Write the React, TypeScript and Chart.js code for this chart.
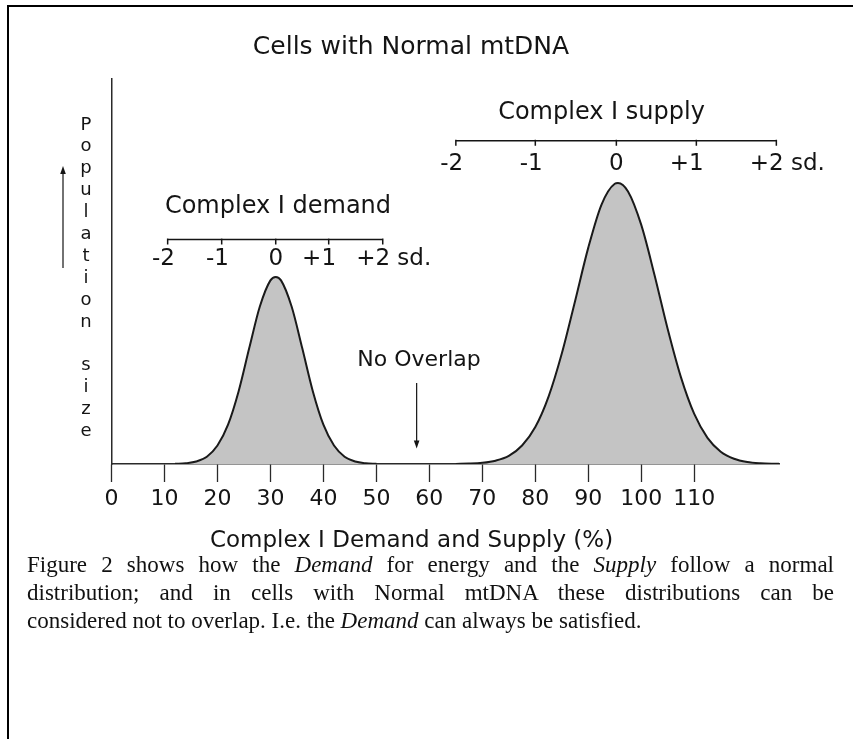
import React, { useEffect, useRef } from 'react';
import { Chart, registerables } from 'chart.js';
Chart.register(...registerables);

// ---- data ----
const xTickValues = [0, 10, 20, 30, 40, 50, 60, 70, 80, 90, 100, 110];
const xAxisMax = 126;
const demandX = [12, 14, 16, 18, 20, 22, 24, 26, 28, 30, 31, 32, 34, 36, 38, 40, 42, 44, 46, 48, 50];
const demandY = [0.05, 0.19, 0.64, 1.9, 4.8, 10.2, 18.9, 30.1, 40.9, 47.7, 48.6, 47.7, 40.9, 30.1, 18.9, 10.2, 4.8, 1.9, 0.64, 0.19, 0.05];
const supplyX = [65, 67.5, 70, 72.5, 75, 77.5, 80, 82.5, 85, 87.5, 90, 92.5, 95, 95.6, 97.5, 100, 102.5, 105, 107.5, 110, 112.5, 115, 117.5, 120, 122.5, 125, 126];
const supplyY = [0.03, 0.1, 0.31, 0.86, 2.1, 4.8, 9.6, 17.5, 28.7, 42.3, 56.2, 67.4, 72.8, 73, 70.8, 62.1, 49.1, 35.0, 22.5, 13.0, 6.8, 3.2, 1.35, 0.51, 0.18, 0.06, 0.04];
const sdLabels = ['-2', '-1', '0', '+1', '+2'];
const demandSdAt = [10.6, 20.8, 31, 41, 51.2];
const supplySdAt = [65, 80, 95.3, 110.4, 125.5];
const overlapAt = 57.6;

const chartTitle = 'Cells with Normal mtDNA';
const xTitle = 'Complex I Demand and Supply (%)';
const yTitle = 'Population size';
const demandTitle = 'Complex I demand';
const supplyTitle = 'Complex I supply';
const overlapText = 'No Overlap';

const FONT = '"DejaVu Sans", Verdana, sans-serif';
const INK = '#141414';

const annotations = {
  id: 'annotations',
  afterDraw(chart: any) {
    const { ctx } = chart;
    const x = chart.scales.x;
    ctx.save();
    ctx.fillStyle = INK;
    ctx.strokeStyle = INK;
    ctx.textBaseline = 'alphabetic';

    // main title
    ctx.font = `25px ${FONT}`;
    ctx.textAlign = 'center';
    ctx.fillText(chartTitle, 411, 54);

    // x axis title
    ctx.font = `23px ${FONT}`;
    ctx.fillText(xTitle, 411.5, 547);

    // y axis label: vertical letters
    ctx.font = `18px ${FONT}`;
    const letters = yTitle.split('');
    letters.forEach((ch, i) => {
      if (ch !== ' ') ctx.fillText(ch, 86, 129.5 + 21.9 * i);
    });
    // y arrow
    ctx.lineWidth = 1.2;
    ctx.beginPath();
    ctx.moveTo(63, 268);
    ctx.lineTo(63, 172);
    ctx.stroke();
    ctx.beginPath();
    ctx.moveTo(63, 166);
    ctx.lineTo(60.2, 174);
    ctx.lineTo(65.8, 174);
    ctx.closePath();
    ctx.fill();

    // sd scales
    const drawSd = (positions: number[], lineY: number, labelBase: number, title: string, titleX: number, titleBase: number) => {
      const xs = positions.map((v) => x.getPixelForValue(v));
      ctx.lineWidth = 1.5;
      ctx.beginPath();
      ctx.moveTo(xs[0], lineY);
      ctx.lineTo(xs[xs.length - 1], lineY);
      xs.forEach((px) => {
        ctx.moveTo(px, lineY - 1);
        ctx.lineTo(px, lineY + 5);
      });
      ctx.stroke();
      ctx.font = `23px ${FONT}`;
      const half = ctx.measureText('0').width / 2;
      ctx.textAlign = 'right';
      xs.forEach((px, i) => ctx.fillText(sdLabels[i], px + half, labelBase));
      ctx.textAlign = 'left';
      ctx.fillText(' sd.', xs[xs.length - 1] + half, labelBase);
      ctx.font = `24px ${FONT}`;
      ctx.textAlign = 'center';
      ctx.fillText(title, titleX, titleBase);
    };
    drawSd(demandSdAt, 239.5, 265, demandTitle, 278, 213);
    drawSd(supplySdAt, 140.7, 169.5, supplyTitle, 601.5, 119);

    // No overlap
    ctx.font = `22px ${FONT}`;
    ctx.textAlign = 'center';
    ctx.fillText(overlapText, 419, 366);
    const ax = x.getPixelForValue(overlapAt);
    ctx.lineWidth = 1.2;
    ctx.beginPath();
    ctx.moveTo(ax, 383);
    ctx.lineTo(ax, 442);
    ctx.stroke();
    ctx.beginPath();
    ctx.moveTo(ax, 448.5);
    ctx.lineTo(ax - 2.8, 440.5);
    ctx.lineTo(ax + 2.8, 440.5);
    ctx.closePath();
    ctx.fill();
    ctx.restore();
  },
};

export default function App() {
  const ref = useRef<HTMLCanvasElement>(null);
  useEffect(() => {
    const curve = {
      borderColor: '#1a1a1a',
      borderWidth: 2,
      backgroundColor: '#c4c4c4',
      fill: 'origin',
      pointRadius: 0,
      cubicInterpolationMode: 'monotone',
    };
    const chart = new Chart(ref.current as HTMLCanvasElement, {
      type: 'line',
      data: {
        datasets: [
          { ...curve, label: 'Complex I demand', data: demandX.map((v, i) => ({ x: v, y: demandY[i] })) },
          { ...curve, label: 'Complex I supply', data: supplyX.map((v, i) => ({ x: v, y: supplyY[i] })) },
        ],
      } as any,
      options: {
        responsive: false,
        animation: false,
        devicePixelRatio: 1,
        layout: { padding: { left: 111.5, top: 79, right: 74, bottom: 186 } },
        plugins: { legend: { display: false }, tooltip: { enabled: false }, title: { display: false } },
        scales: {
          x: {
            type: 'linear',
            min: 0,
            max: xAxisMax,
            afterBuildTicks: (s: any) => {
              s.ticks = xTickValues.map((v) => ({ value: v }));
            },
            afterFit: (s: any) => {
              s.height = 89;
            },
            grid: { display: true, drawOnChartArea: false, drawTicks: true, tickLength: 18, tickColor: '#2a2a2a', tickWidth: 1.3 },
            border: { display: true, color: '#2a2a2a', width: 1.5 },
            ticks: { font: { family: 'DejaVu Sans', size: 22, lineHeight: 1.2 }, color: INK, padding: 4, maxRotation: 0, autoSkip: false },
          },
          y: {
            min: 0,
            max: 100,
            afterFit: (s: any) => {
              s.width = 0;
            },
            ticks: { display: false },
            grid: { display: false },
            border: { display: true, color: '#2a2a2a', width: 1.5 },
          },
        },
      } as any,
      plugins: [annotations],
    });
    return () => chart.destroy();
  }, []);

  const capLine: React.CSSProperties = { textAlign: 'justify', textAlignLast: 'justify', height: 28, whiteSpace: 'nowrap' };
  return (
    <div style={{ position: 'fixed', inset: 0, overflow: 'hidden', background: '#fff' }}>
      <div style={{ position: 'absolute', left: 7, top: 5, width: 1000, height: 1000, borderLeft: '2px solid #000', borderTop: '2px solid #000' }} />
      <canvas ref={ref} width={853} height={739} style={{ position: 'absolute', left: 0, top: 0, width: 853, height: 739 }} />
      <div style={{ position: 'absolute', left: 27, top: 551, width: 807, fontFamily: '"Liberation Serif", "Times New Roman", serif', fontSize: 23, lineHeight: '28px', color: '#111' }}>
        <div style={capLine}>
          Figure 2 shows how the <i>Demand</i> for energy and the <i>Supply</i> follow a normal
        </div>
        <div style={capLine}>
          distribution; and in cells with Normal mtDNA these distributions can be
        </div>
        <div style={{ textAlign: 'left', height: 28, whiteSpace: 'nowrap' }}>
          considered not to overlap. I.e. the <i>Demand</i> can always be satisfied.
        </div>
      </div>
    </div>
  );
}
